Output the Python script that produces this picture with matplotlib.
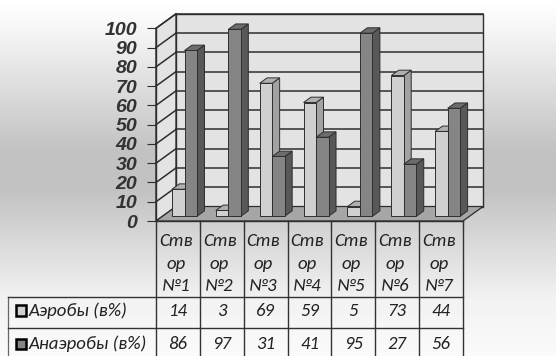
import numpy as np
import matplotlib
matplotlib.use("Agg")
import matplotlib.pyplot as plt
from matplotlib.patches import Polygon, Rectangle
from matplotlib.font_manager import FontProperties
from matplotlib.transforms import blended_transform_factory

# ---- data ----
categories = ["Ств\nор\n№1", "Ств\nор\n№2", "Ств\nор\n№3", "Ств\nор\n№4",
              "Ств\nор\n№5", "Ств\nор\n№6", "Ств\nор\n№7"]
series_names = ["Аэробы (в%)", "Анаэробы (в%)"]
aerobes = [14, 3, 69, 59, 5, 73, 44]
anaerobes = [86, 97, 31, 41, 95, 27, 56]
y_ticks = list(range(0, 101, 10))

W, H = 556, 356
fig = plt.figure(figsize=(W / 100, H / 100), dpi=100)

# ---- background: soft vertical grey gradient ----
bg = fig.add_axes([0, 0, 1, 1])
bg.set_axis_off()
rows = np.arange(H)
grad = np.interp(rows, [0, 30, 150, 190, 300, 356], [1.0, 0.96, 0.76, 0.76, 0.95, 0.98])
bg.imshow(grad[:, None], cmap="gray", vmin=0, vmax=1, aspect="auto",
          extent=[0, 1, 0, 1], origin="upper")

# ---- chart area (front plane in data units) ----
n = len(categories)
ax = fig.add_axes([156 / W, 1 - 221 / H, 307 / W, 192.7 / H])
ax.set_xlim(0, n)
ax.set_ylim(0, 100)
ax.patch.set_alpha(0)

DX = 20 / 307 * n        # depth offset along x (category units)
DY = 14.5 / 192.7 * 100  # depth offset along y (value units)
line_c = "#2e2e2e"
wall_c = "#e3e3e3"

# back wall and left wall
ax.add_patch(Polygon([(DX, DY), (n + DX, DY), (n + DX, 100 + DY), (DX, 100 + DY)],
                     closed=True, fc=wall_c, ec=line_c, lw=1.0, clip_on=False, zorder=1))
ax.add_patch(Polygon([(0, 0), (DX, DY), (DX, 100 + DY), (0, 100)],
                     closed=True, fc=wall_c, ec=line_c, lw=1.0, clip_on=False, zorder=1))
for v in y_ticks[1:]:
    ax.plot([DX, n + DX], [v + DY, v + DY], color=line_c, lw=1.1, clip_on=False, zorder=2)
    ax.plot([0, DX], [v, v + DY], color=line_c, lw=1.1, clip_on=False, zorder=2)

# floor
ax.add_patch(Polygon([(0, 0), (n, 0), (n + DX, DY), (DX, DY)], closed=True,
                     fc="#a6a6a6", ec=line_c, lw=0.9, clip_on=False, zorder=3))

# 3-D looking columns
w = 1 / 3.5
d0, d1 = 0.33, 0.70
ddx, ddy = (d1 - d0) * DX, (d1 - d0) * DY
shades = [("#d0d0d0", "#a2a2a2", "#b0b0b0"), ("#858585", "#585858", "#6c6c6c")]
for i in range(n):
    for s, vals in enumerate([aerobes, anaerobes]):
        v = vals[i]
        fc, sc, tc = shades[s]
        z = 4 + i * 0.1 + s * 0.05
        x0 = i + 0.75 / 3.5 + s * w + d0 * DX
        y0 = d0 * DY
        ax.add_patch(Polygon([(x0 + w, y0), (x0 + w + ddx, y0 + ddy),
                              (x0 + w + ddx, y0 + ddy + v), (x0 + w, y0 + v)],
                             closed=True, fc=sc, ec=line_c, lw=0.7, clip_on=False, zorder=z))
        ax.add_patch(Polygon([(x0, y0 + v), (x0 + w, y0 + v),
                              (x0 + w + ddx, y0 + v + ddy), (x0 + ddx, y0 + v + ddy)],
                             closed=True, fc=tc, ec=line_c, lw=0.7, clip_on=False, zorder=z))
        ax.add_patch(Rectangle((x0, y0), w, v, fc=fc, ec=line_c, lw=0.7,
                               clip_on=False, zorder=z + 0.01))

# axes, ticks
tick_font = FontProperties(family="Liberation Sans", weight="bold", style="italic", size=14)
ax.set_yticks(y_ticks)
ax.set_yticklabels([str(t) for t in y_ticks])
for lbl in ax.get_yticklabels():
    lbl.set_fontproperties(tick_font)
    lbl.set_color("#333333")
ax.tick_params(axis="y", direction="out", length=6.5, width=0.8, color=line_c, pad=7)
ax.set_xticks(range(n + 1))
ax.set_xticklabels([])
ax.tick_params(axis="x", direction="out", length=6, width=0.8, color=line_c)
for sp in ["top", "right"]:
    ax.spines[sp].set_visible(False)
for sp in ["left", "bottom"]:
    ax.spines[sp].set_color(line_c)
    ax.spines[sp].set_linewidth(1.0)
    ax.spines[sp].set_zorder(10)

# ---- data table (columns follow the category axis, rows in pixels) ----
tab = fig.add_axes([0, 0, 1, 1])
tab.set_xlim(0, W)
tab.set_ylim(H, 0)
tab.set_axis_off()
cat_tr = blended_transform_factory(ax.transData, tab.transData)

head_font = dict(family=["Carlito", "DejaVu Sans"], style="italic", fontsize=13.5, color="#222222")
row_font = dict(family=["Carlito", "DejaVu Sans"], style="italic", fontsize=13.5, color="#222222")
row_edges = [221, 297, 327.7, 362]
tcol = "#333333"
for x in range(n + 1):
    tab.plot([x, x], [row_edges[0], row_edges[-1]], color=tcol, lw=1.0, transform=cat_tr)
tab.plot([8, 8], [row_edges[1], row_edges[-1]], color="#666666", lw=0.9)
left_edge = ax.transData.inverted().transform((8, 0))[0]
for y in row_edges[1:3]:
    tab.plot([left_edge, n], [y, y], color=tcol, lw=1.0, transform=cat_tr)

for i, label in enumerate(categories):
    for k, part in enumerate(label.split("\n")):
        tab.text(i + 0.45, 246 + k * 22.5, part, ha="center", va="baseline",
                 transform=cat_tr, **head_font)

row_centers = [310.5, 344]
for name, vals, shade, cy in zip(series_names, [aerobes, anaerobes], shades, row_centers):
    tab.add_patch(Rectangle((15.5, cy - 5.5), 10.5, 10.5, fc=shade[0], ec="black", lw=1.8))
    tab.text(29, cy, name, ha="left", va="center", **row_font)
    for i, v in enumerate(vals):
        tab.text(i + 0.5, cy, str(v), ha="center", va="center", transform=cat_tr, **row_font)

fig.savefig("out.png", dpi=100)
